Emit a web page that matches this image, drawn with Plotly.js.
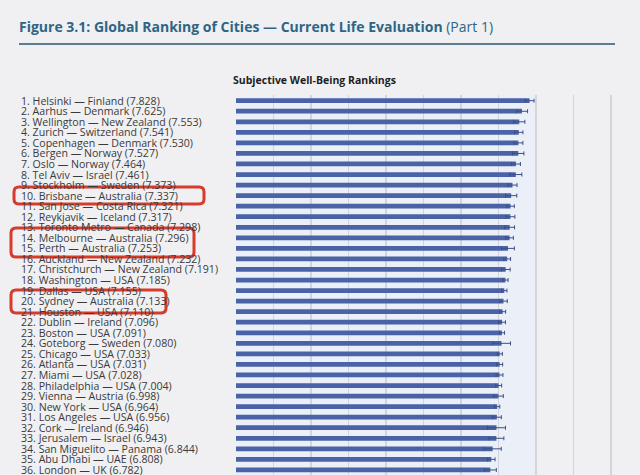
<!DOCTYPE html>
<html><head><meta charset="utf-8">
<script src="https://cdn.plot.ly/plotly-3.0.1.min.js"></script>
<style>html,body{margin:0;padding:0;background:#f0f0f2;overflow:hidden}#chart{width:640px;height:475px}</style>
</head><body><div id="chart"></div>
<script>
const cities = ["Helsinki","Aarhus","Wellington","Zurich","Copenhagen","Bergen","Oslo","Tel Aviv","Stockholm","Brisbane","San Jose","Reykjavik","Toronto Metro","Melbourne","Perth","Auckland","Christchurch","Washington","Dallas","Sydney","Houston","Dublin","Boston","Goteborg","Chicago","Atlanta","Miami","Philadelphia","Vienna","New York","Los Angeles","Cork","Jerusalem","San Miguelito","Abu Dhabi","London"];
const countries = ["Finland","Denmark","New Zealand","Switzerland","Denmark","Norway","Norway","Israel","Sweden","Australia","Costa Rica","Iceland","Canada","Australia","Australia","New Zealand","New Zealand","USA","USA","Australia","USA","Ireland","USA","Sweden","USA","USA","USA","USA","Austria","USA","USA","Ireland","Israel","Panama","UAE","UK"];
const scores = [7.828,7.625,7.553,7.541,7.530,7.527,7.464,7.461,7.373,7.337,7.321,7.317,7.298,7.296,7.253,7.232,7.191,7.185,7.155,7.133,7.110,7.096,7.091,7.080,7.033,7.031,7.028,7.004,6.998,6.964,6.956,6.946,6.943,6.844,6.808,6.782];
const errors = [0.12,0.15,0.15,0.11,0.12,0.15,0.12,0.16,0.12,0.15,0.10,0.12,0.13,0.10,0.17,0.09,0.12,0.07,0.07,0.10,0.08,0.09,0.07,0.24,0.07,0.08,0.09,0.08,0.13,0.07,0.12,0.24,0.20,0.23,0.10,0.16];
const ranks = cities.map((c,i)=>i+1);
const labels = cities.map((c,i)=>ranks[i]+". "+c+" — "+countries[i]+" ("+scores[i].toFixed(3)+")");

// pixel -> paper helpers (layout geometry)
const L=236, T=95, W=404, H=380, PH=475;
const px = x => (x-L)/W;
const py = y => (PH-y)/H;
function roundRect(x0,y0,x1,y1,r){
  const f=(x,y)=>px(x).toFixed(5)+","+py(y).toFixed(5);
  return "M"+f(x0+r,y0)+" L"+f(x1-r,y0)+" Q"+f(x1,y0)+" "+f(x1,y0+r)+
    " L"+f(x1,y1-r)+" Q"+f(x1,y1)+" "+f(x1-r,y1)+
    " L"+f(x0+r,y1)+" Q"+f(x0,y1)+" "+f(x0,y1-r)+
    " L"+f(x0,y0+r)+" Q"+f(x0,y0)+" "+f(x0+r,y0)+" Z";
}

const traces = [{
  type:"bar", orientation:"h", x:scores, y:ranks, width:0.45,
  marker:{color:"#4a63a7"},
  error_x:{type:"data", array:errors, visible:true, color:"#3d4f86", thickness:1, width:2},
  hoverinfo:"skip"
}];

const annotations = labels.map((t,i)=>({
  xref:"paper", yref:"y", x:px(19), y:ranks[i], xanchor:"left", yanchor:"middle",
  text:t, showarrow:false, font:{family:"'Open Sans', Lato, sans-serif", size:10.6, color:"#3a3a3a"}
}));
annotations.push({
  xref:"paper", yref:"paper", x:px(314), y:py(80), xanchor:"center", yanchor:"middle",
  text:"<b>Subjective Well-Being Rankings</b>", showarrow:false,
  font:{family:"'Open Sans', Lato, sans-serif", size:10.5, color:"#1e1e1e"}
});

const shapes = [
  {type:"rect", xref:"x", yref:"paper", x0:0, x1:8, y0:0, y1:1, fillcolor:"#eaeff8", line:{width:0}, layer:"below"},
  {type:"line", xref:"paper", yref:"paper", x0:px(19), x1:px(615), y0:py(44), y1:py(44), line:{color:"#5b7d92", width:2}},
  {type:"path", xref:"paper", yref:"paper", path:roundRect(14,187,204,204,5), line:{color:"#d63c2c", width:3}},
  {type:"path", xref:"paper", yref:"paper", path:roundRect(11,228,194,257,5), line:{color:"#d63c2c", width:3}},
  {type:"path", xref:"paper", yref:"paper", path:roundRect(11,290,166,313,5), line:{color:"#d63c2c", width:3}}
];

const layout = {
  width:640, height:475,
  margin:{l:L, r:0, t:T, b:0, pad:0},
  paper_bgcolor:"#f0f0f2", plot_bgcolor:"#f0f0f2",
  showlegend:false,
  title:{text:"<b>Figure 3.1: Global Ranking of Cities — Current Life Evaluation</b> (Part 1)",
    xref:"container", yref:"container", x:19/640, xanchor:"left", y:1-27/475, yanchor:"middle",
    font:{family:"'Open Sans', Lato, sans-serif", size:14, color:"#2f6584"}},
  xaxis:{range:[0,10.773], dtick:1, tick0:0, showticklabels:false, ticks:"", gridcolor:"#d3d5db", gridwidth:1.5, zeroline:false, showline:false, fixedrange:true},
  yaxis:{range:[36.48,0.46], showticklabels:false, ticks:"", showgrid:false, zeroline:false, showline:false, fixedrange:true},
  annotations:annotations, shapes:shapes
};
Plotly.newPlot("chart", traces, layout, {displayModeBar:false, staticPlot:true});
</script></body></html>
